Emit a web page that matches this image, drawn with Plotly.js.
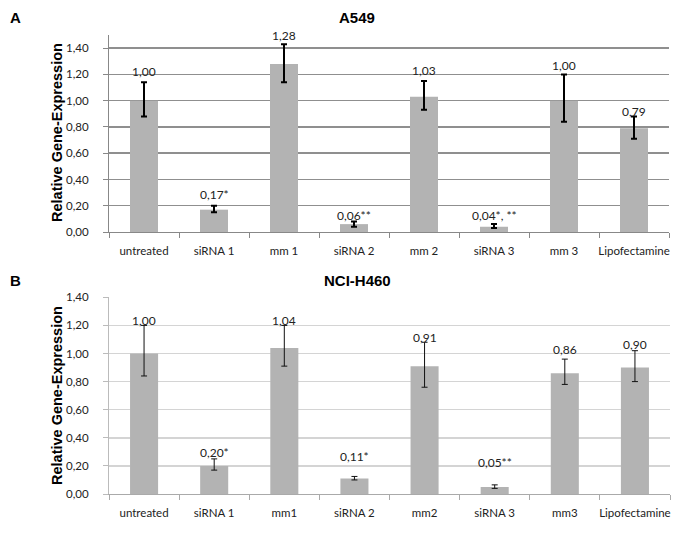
<!DOCTYPE html>
<html>
<head>
<meta charset="utf-8">
<script src="https://cdn.plot.ly/plotly-3.0.1.min.js"></script>
<style>html,body{margin:0;padding:0;background:#fff}#chart{width:685px;height:533px}</style>
</head>
<body>
<div id="chart"></div>
<script>
// ---- Data: panel A (A549) ----
const categoriesA = ['untreated', 'siRNA 1', 'mm 1', 'siRNA 2', 'mm 2', 'siRNA 3', 'mm 3', 'Lipofectamine'];
const valuesA     = [1.00, 0.17, 1.28, 0.06, 1.03, 0.04, 1.00, 0.79];
const errPlusA    = [0.14, 0.03, 0.15, 0.02, 0.12, 0.02, 0.20, 0.09];
const errMinusA   = [0.12, 0.02, 0.14, 0.02, 0.10, 0.01, 0.16, 0.08];
const labelsA     = ['1,00', '0,17*', '1,28', '0,06**', '1,03', '0,04*, **', '1,00', '0,79'];

// ---- Data: panel B (NCI-H460) ----
const categoriesB = ['untreated', 'siRNA 1', 'mm1', 'siRNA 2', 'mm2', 'siRNA 3', 'mm3', 'Lipofectamine'];
const valuesB     = [1.00, 0.20, 1.04, 0.11, 0.91, 0.05, 0.86, 0.90];
const errPlusB    = [0.20, 0.05, 0.16, 0.015, 0.17, 0.015, 0.10, 0.12];
const errMinusB   = [0.16, 0.03, 0.13, 0.01, 0.15, 0.01, 0.08, 0.10];
const labelsB     = ['1,00', '0,20*', '1,04', '0,11*', '0,91', '0,05**', '0,86', '0,90'];

const yTickVals = [0, 0.2, 0.4, 0.6, 0.8, 1.0, 1.2, 1.4];

// ---- Styling / layout (pixel lifts of the value labels) ----
const labelLiftA = [11, 11, 9, 6, 10, 9, 9, 5];
const labelLiftB = [5, 6, 5, 20, 5, 22, 10, 6];

const W = 685, H = 533;
const px = v => v / W;
const py = v => 1 - v / H;
const FONT = 'Lato, "Open Sans", sans-serif';
const BAR = '#b3b3b3';

const traces = [
  {
    type: 'bar', x: categoriesA, y: valuesA, xaxis: 'x', yaxis: 'y',
    marker: {color: BAR}, width: 0.4, hoverinfo: 'none',
    error_y: {type: 'data', array: errPlusA, arrayminus: errMinusA, symmetric: false,
              color: '#000', thickness: 2, width: 3}
  },
  {
    type: 'bar', x: categoriesB, y: valuesB, xaxis: 'x2', yaxis: 'y2',
    marker: {color: BAR}, width: 0.4, hoverinfo: 'none',
    error_y: {type: 'data', array: errPlusB, arrayminus: errMinusB, symmetric: false,
              color: '#111', thickness: 1, width: 3}
  }
];

const annotations = [];
categoriesA.forEach((c, i) => annotations.push({
  xref: 'x', yref: 'y', x: c, y: valuesA[i] + errPlusA[i], text: labelsA[i],
  showarrow: false, xanchor: 'center', yanchor: 'middle', yshift: labelLiftA[i],
  font: {family: FONT, size: 12, color: '#222'}
}));
categoriesB.forEach((c, i) => annotations.push({
  xref: 'x2', yref: 'y2', x: c, y: valuesB[i] + errPlusB[i], text: labelsB[i],
  showarrow: false, xanchor: 'center', yanchor: 'middle', yshift: labelLiftB[i],
  font: {family: FONT, size: 12, color: '#222'}
}));
const titleFont = {family: '"Liberation Sans", Arial, sans-serif', size: 15, color: '#000'};
[
  [15, 17, '<b>A</b>'], [357, 17, '<b>A549</b>'],
  [15, 280, '<b>B</b>'], [357, 280, '<b>NCI-H460</b>']
].forEach(t => annotations.push({
  xref: 'paper', yref: 'paper', x: px(t[0]), y: py(t[1]), text: t[2],
  showarrow: false, xanchor: 'center', yanchor: 'middle', font: titleFont
}));
const yTitleFont = {family: '"Liberation Sans", Arial, sans-serif', size: 14.5, color: '#000'};
[[133, 'y'], [396, 'y2']].forEach(t => annotations.push({
  xref: 'paper', yref: 'paper', x: px(57), y: py(t[0]),
  text: '<b>Relative Gene-Expression</b>', textangle: -90,
  showarrow: false, xanchor: 'center', yanchor: 'middle', font: yTitleFont
}));

const tickFont = {family: FONT, size: 11.5, color: '#222'};
const xTickFont = {family: FONT, size: 11.5, color: '#222'};

function xAxis(dom, anchor, lc) {
  return {
    domain: dom, anchor: anchor, type: 'category',
    showline: true, linecolor: lc, linewidth: 1,
    ticks: 'outside', tickson: 'boundaries', ticklen: 5, tickcolor: lc,
    tickangle: 0, ticklabelstandoff: 8,
    showgrid: false, tickfont: xTickFont
  };
}
function yAxis(dom, anchor, rng, lc, gc) {
  return {
    domain: dom, anchor: anchor, range: rng,
    tickvals: yTickVals, tickformat: '.2f',
    showline: true, linecolor: lc, linewidth: 1,
    ticks: 'outside', ticklen: 5, tickcolor: lc, ticklabelstandoff: 12,
    showgrid: true, gridcolor: gc, gridwidth: 1.5, zeroline: false,
    tickfont: tickFont
  };
}

const layout = {
  width: W, height: H,
  margin: {l: 0, r: 0, t: 0, b: 0},
  paper_bgcolor: '#fff', plot_bgcolor: '#fff',
  separators: ', ',
  showlegend: false,
  bargap: 0.6,
  annotations: annotations,
  xaxis: xAxis([px(109), px(669)], 'y', '#888'),
  yaxis: yAxis([py(232), py(35)], 'x', [0, 1.5], '#888', '#8f8f8f'),
  xaxis2: xAxis([px(109), px(670)], 'y2', '#aaa'),
  yaxis2: yAxis([py(494), py(297.3)], 'x2', [0, 1.4], '#bbb', '#d4d4d4')
};

Plotly.newPlot('chart', traces, layout, {staticPlot: true, displayModeBar: false});
</script>
</body>
</html>
